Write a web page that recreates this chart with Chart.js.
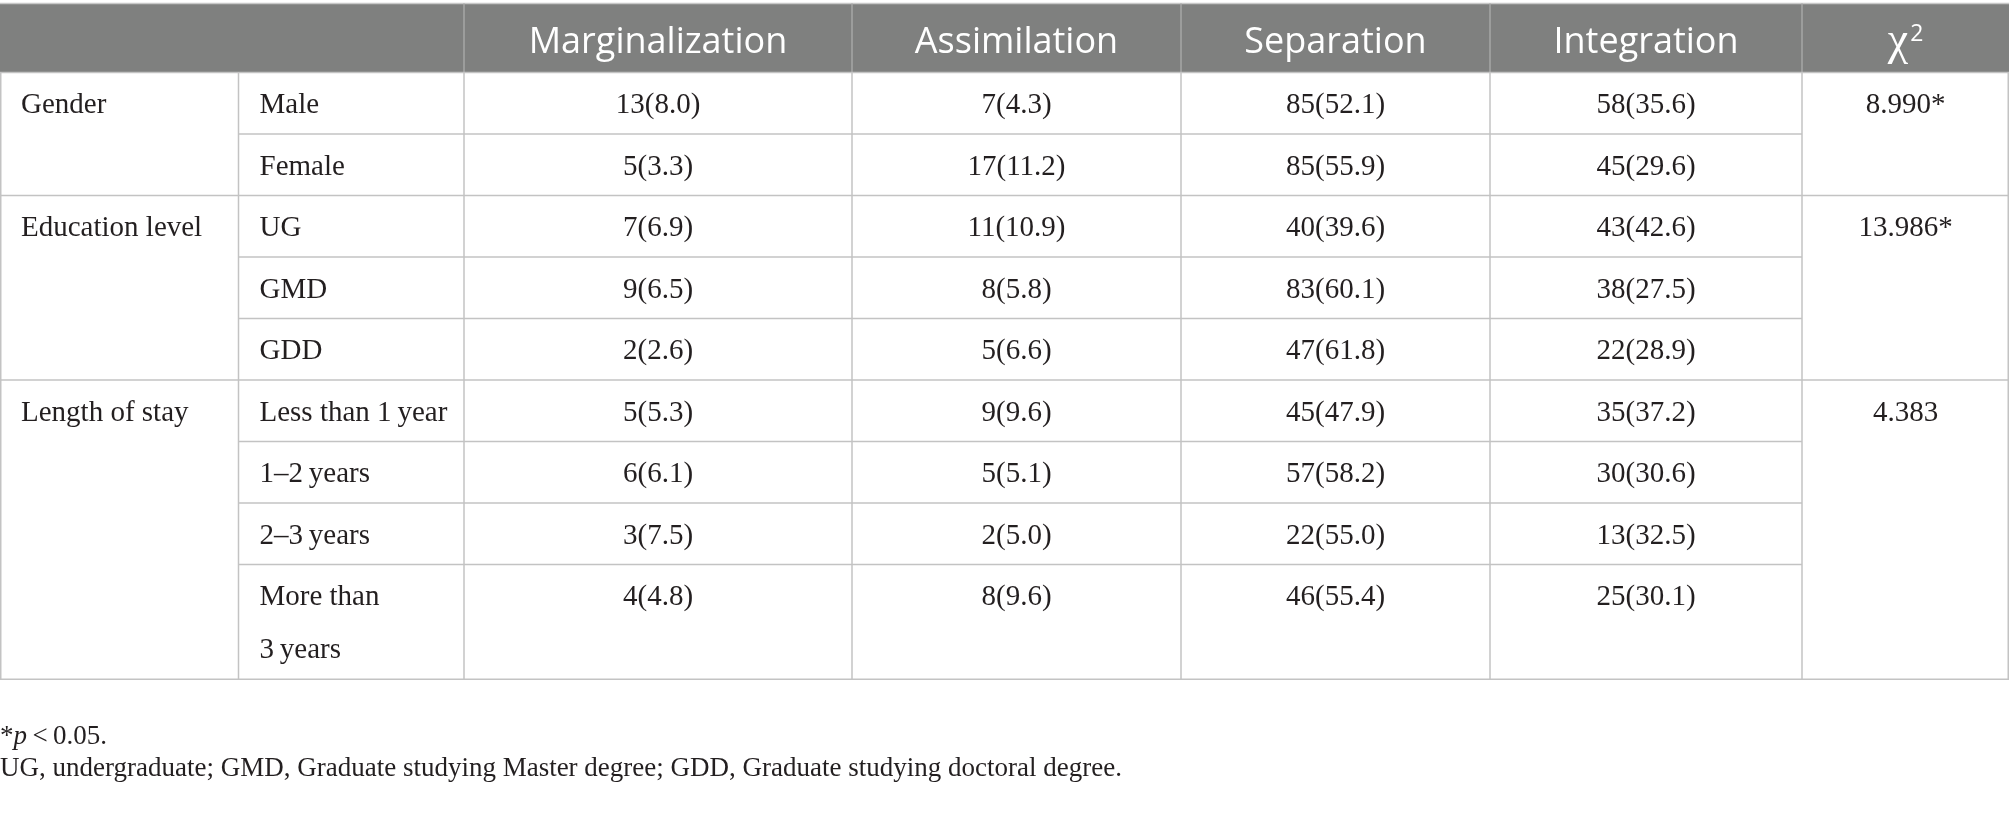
<!DOCTYPE html>
<html>
<head>
<meta charset="utf-8">
<script src="https://cdn.jsdelivr.net/npm/chart.js@4/dist/chart.umd.min.js"></script>
<style>
  html, body { margin: 0; padding: 0; background: #fff; }
  #wrap { width: 2009px; height: 817px; position: relative; }
</style>
</head>
<body>
<div id="wrap"><canvas id="myChart"></canvas></div>
<script>
// table content
const columns = ['Marginalization', 'Assimilation', 'Separation', 'Integration'];
const groups = ['Gender', 'Education level', 'Length of stay'];
const subgroups = [
    ['Male', 'Female'],
    ['UG', 'GMD', 'GDD'],
    ['Less than 1\u2009year', '1\u20132\u2009years', '2\u20133\u2009years', 'More than\n3\u2009years']
];
// n and (%) per row, rows in the same order as subgroups
const margN   = [13, 5, 7, 9, 2, 5, 6, 3, 4];
const margPct = [8.0, 3.3, 6.9, 6.5, 2.6, 5.3, 6.1, 7.5, 4.8];
const assiN   = [7, 17, 11, 8, 5, 9, 5, 2, 8];
const assiPct = [4.3, 11.2, 10.9, 5.8, 6.6, 9.6, 5.1, 5.0, 9.6];
const sepaN   = [85, 85, 40, 83, 47, 45, 57, 22, 46];
const sepaPct = [52.1, 55.9, 39.6, 60.1, 61.8, 47.9, 58.2, 55.0, 55.4];
const inteN   = [58, 45, 43, 38, 22, 35, 30, 13, 25];
const intePct = [35.6, 29.6, 42.6, 27.5, 28.9, 37.2, 30.6, 32.5, 30.1];
const chiSq   = [8.990, 13.986, 4.383];
const chiSig  = [true, true, false];
const notes = ['UG, undergraduate; GMD, Graduate studying Master degree; GDD, Graduate studying doctoral degree.'];

// layout (table units on the hidden axes)
const colEdges = [0, 238.5, 464, 852, 1181, 1490, 1802, 2009];
const headTop = 3.5, headBottom = 72.5, rowH = 61.5, lineH = 53;
const serif = '"Liberation Serif", "DejaVu Serif", serif';
const sans = '"Open Sans", "Noto Sans", sans-serif';

const tablePlugin = {
    id: 'tablePlugin',
    afterDraw(chart) {
        const ctx = chart.ctx;
        const xs = chart.scales.x, ys = chart.scales.y;
        const X = v => xs.getPixelForValue(v);
        const Y = v => ys.getPixelForValue(v);

        // row tops, each sub row gets rowH per text line
        const rows = [];
        let top = headBottom;
        subgroups.forEach((subs, g) => {
            subs.forEach((s, k) => {
                const nl = s.split('\n').length;
                const h = rowH + (nl - 1) * (lineH + 0.3);
                rows.push({ g, k, label: s, top, h, first: k === 0, last: k === subs.length - 1 });
                top += h;
            });
        });
        const tableBottom = top;

        ctx.save();
        // header band
        ctx.fillStyle = '#7f807f';
        ctx.fillRect(X(colEdges[0]), Y(headTop), X(colEdges[7]) - X(colEdges[0]), Y(headBottom) - Y(headTop));
        ctx.strokeStyle = '#c8c8c8';
        ctx.lineWidth = 1.5;
        ctx.beginPath();
        ctx.moveTo(X(0), Y(headTop)); ctx.lineTo(X(2009), Y(headTop));
        ctx.stroke();
        // header separators
        ctx.strokeStyle = '#a6a6a6';
        ctx.beginPath();
        for (let i = 2; i < 7; i++) {
            ctx.moveTo(X(colEdges[i]), Y(headTop)); ctx.lineTo(X(colEdges[i]), Y(headBottom));
        }
        ctx.stroke();

        // header text
        ctx.fillStyle = '#ffffff';
        ctx.textAlign = 'center';
        ctx.textBaseline = 'alphabetic';
        ctx.font = '400 36px ' + sans;
        columns.forEach((c, i) => {
            const cx = (X(colEdges[i + 2]) + X(colEdges[i + 3])) / 2;
            ctx.fillText(c, cx, Y(headBottom - 20));
        });
        // chi square header
        const cxChi = (X(colEdges[6]) + X(colEdges[7])) / 2;
        ctx.font = '46px ' + serif;
        const wChi = ctx.measureText('\u03c7').width;
        ctx.font = '23px ' + sans;
        const wTwo = ctx.measureText('2').width;
        const startChi = cxChi - (wChi + wTwo + 2) / 2;
        ctx.textAlign = 'left';
        ctx.font = '46px ' + serif;
        ctx.fillText('\u03c7', startChi, Y(headBottom - 19));
        ctx.font = '23px ' + sans;
        ctx.fillText('2', startChi + wChi + 2, Y(headBottom - 32));

        // grid lines
        ctx.strokeStyle = '#c3c3c3';
        ctx.lineWidth = 1.5;
        ctx.beginPath();
        // outer + group separators
        ctx.moveTo(X(0), Y(headBottom)); ctx.lineTo(X(2009), Y(headBottom));
        rows.forEach(r => {
            const yb = Y(r.top + r.h);
            if (r.last) {
                ctx.moveTo(X(0), yb); ctx.lineTo(X(2009), yb);
            } else {
                ctx.moveTo(X(colEdges[1]), yb); ctx.lineTo(X(colEdges[6]), yb);
            }
        });
        colEdges.forEach((e, i) => {
            const xx = i === 0 ? X(e) + 0.75 : (i === 7 ? X(e) - 0.75 : X(e));
            ctx.moveTo(xx, Y(headBottom)); ctx.lineTo(xx, Y(tableBottom));
        });
        ctx.stroke();

        // body text
        const fs = 29;
        ctx.fillStyle = '#231f20';
        ctx.font = fs + 'px ' + serif;
        const base = t => Y(t + rowH / 2 + 0.35 * fs);
        const pad = 21;
        const fmt = (n, p) => n + '(' + p.toFixed(1) + ')';
        const cols = [[margN, margPct], [assiN, assiPct], [sepaN, sepaPct], [inteN, intePct]];
        rows.forEach((r, idx) => {
            ctx.textAlign = 'left';
            if (r.first) ctx.fillText(groups[r.g], X(colEdges[0]) + pad, base(r.top));
            r.label.split('\n').forEach((ln, j) => {
                ctx.fillText(ln, X(colEdges[1]) + pad, base(r.top + j * lineH));
            });
            ctx.textAlign = 'center';
            cols.forEach((c, i) => {
                const cx = (X(colEdges[i + 2]) + X(colEdges[i + 3])) / 2;
                ctx.fillText(fmt(c[0][idx], c[1][idx]), cx, base(r.top));
            });
            if (r.first) {
                const cx = (X(colEdges[6]) + X(colEdges[7])) / 2;
                ctx.fillText(chiSq[r.g].toFixed(3) + (chiSig[r.g] ? '*' : ''), cx, base(r.top));
            }
        });

        // footnotes
        const fy1 = 744, fy2 = 776;
        ctx.textAlign = 'left';
        ctx.font = '27px ' + serif;
        let fx = X(0);
        ctx.fillText('*', fx, Y(fy1));
        fx += ctx.measureText('*').width;
        ctx.font = 'italic 27px ' + serif;
        ctx.fillText('p', fx, Y(fy1));
        fx += ctx.measureText('p').width;
        ctx.font = '27px ' + serif;
        ctx.fillText('\u2009<\u20090.05.', fx, Y(fy1));
        ctx.fillText(notes[0], X(0), Y(fy2));
        ctx.restore();
    }
};

const config = {
    type: 'scatter',
    data: { datasets: [] },
    options: {
        responsive: true,
        maintainAspectRatio: false,
        animation: false,
        layout: { padding: 0 },
        plugins: { legend: { display: false }, tooltip: { enabled: false } },
        scales: {
            x: { type: 'linear', min: 0, max: 2009, display: false },
            y: { type: 'linear', min: 0, max: 817, reverse: true, display: false }
        }
    },
    plugins: [tablePlugin]
};

const myChart = new Chart(document.getElementById('myChart'), config);
</script>
</body>
</html>
